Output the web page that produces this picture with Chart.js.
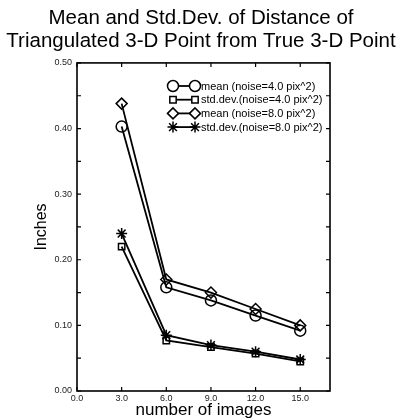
<!DOCTYPE html>
<html>
<head>
<meta charset="utf-8">
<script src="https://cdn.jsdelivr.net/npm/chart.js@4.4.1/dist/chart.umd.min.js"></script>
<style>
  html, body { margin: 0; padding: 0; background: #fff; }
  #wrap { width: 402px; height: 419px; }
</style>
</head>
<body>
<div id="wrap"><canvas id="chart" width="402" height="419"></canvas></div>
<script>
// data
const nImages = [3, 6, 9, 12, 15];
const mean4 = [0.403, 0.158, 0.138, 0.115, 0.092];
const std4 = [0.220, 0.077, 0.067, 0.057, 0.045];
const mean8 = [0.438, 0.170, 0.150, 0.125, 0.100];
const std8 = [0.240, 0.085, 0.070, 0.060, 0.048];

const labels = [
  'mean (noise=4.0 pix^2)',
  'std.dev.(noise=4.0 pix^2)',
  'mean (noise=8.0 pix^2)',
  'std.dev.(noise=8.0 pix^2)',
];
const styles = ['circle', 'rect', 'rectRot', 'star'];
const radii = [5.5, 4.5, 5.5, 5.5];

const FONT = "'Liberation Sans', Arial, sans-serif";

const mkSet = (vals, i) => ({
  label: labels[i],
  data: nImages.map((x, j) => ({ x, y: vals[j] })),
  borderColor: '#000',
  borderWidth: 1.8,
  pointStyle: styles[i],
  pointRadius: radii[i],
  pointBorderWidth: 1.5,
  pointBackgroundColor: 'rgba(255,255,255,0)',
  pointBorderColor: '#000',
  tension: 0,
});

// box frame, inward ticks and the line+marker legend
const framePlugin = {
  id: 'frame',
  afterDatasetsDraw(chart) {
    const { ctx, chartArea: a, scales } = chart;
    ctx.save();
    ctx.strokeStyle = '#000';
    ctx.lineWidth = 1.6;
    ctx.strokeRect(a.left, a.top, a.right - a.left, a.bottom - a.top);
    ctx.lineWidth = 1.2;
    ctx.beginPath();
    scales.x.ticks.forEach(t => {
      const px = scales.x.getPixelForValue(t.value);
      ctx.moveTo(px, a.bottom); ctx.lineTo(px, a.bottom - 4);
      ctx.moveTo(px, a.top); ctx.lineTo(px, a.top + 4);
    });
    for (let v = 0; v <= 0.5001; v += 0.05) {
      const py = scales.y.getPixelForValue(v);
      ctx.moveTo(a.left, py); ctx.lineTo(a.left + 4, py);
      ctx.moveTo(a.right, py); ctx.lineTo(a.right - 4, py);
    }
    ctx.stroke();

    // legend
    const x0 = 173, x1 = 195, y0 = 86, dy = 13.7;
    chart.data.datasets.forEach((ds, i) => {
      const y = y0 + i * dy;
      ctx.lineWidth = 1.8;
      ctx.beginPath();
      ctx.moveTo(x0, y); ctx.lineTo(x1, y);
      ctx.stroke();
      const opts = { pointStyle: ds.pointStyle, radius: ds.pointRadius, rotation: 0, borderWidth: 1.5 };
      ctx.fillStyle = '#fff';
      ctx.lineWidth = 1.5;
      Chart.helpers.drawPoint(ctx, opts, x0, y);
      Chart.helpers.drawPoint(ctx, opts, x1, y);
      ctx.fillStyle = '#000';
      ctx.font = '11px ' + FONT;
      ctx.textBaseline = 'middle';
      ctx.fillText(ds.label, x1 + 6, y + 0.5);
    });
    ctx.restore();
  },
};

new Chart(document.getElementById('chart'), {
  type: 'line',
  data: {
    datasets: [mkSet(mean4, 0), mkSet(std4, 1), mkSet(mean8, 2), mkSet(std8, 3)],
  },
  options: {
    responsive: false,
    animation: false,
    layout: { padding: 0 },
    plugins: {
      legend: { display: false },
      tooltip: { enabled: false },
      title: {
        display: true,
        text: ['Mean and Std.Dev. of Distance of', 'Triangulated 3-D Point from True 3-D Point'],
        color: '#000',
        font: { family: FONT, size: 20.5, weight: 'normal', lineHeight: 1.12 },
        padding: { top: 6.5, bottom: 10.5 },
      },
    },
    scales: {
      x: {
        type: 'linear',
        min: 0,
        max: 17,
        grid: { display: false, drawTicks: false },
        border: { display: false },
        ticks: {
          stepSize: 3,
          includeBounds: false,
          maxRotation: 0,
          padding: 2,
          color: '#222',
          font: { family: FONT, size: 9 },
          callback: v => v.toFixed(1),
        },
        title: {
          display: true,
          text: 'number of images',
          color: '#000',
          font: { family: FONT, size: 17 },
          padding: { top: 0, bottom: -2 },
        },
        afterFit(s) { s.height = 28; },
      },
      y: {
        min: 0,
        max: 0.5,
        grid: { display: false, drawTicks: false },
        border: { display: false },
        ticks: {
          stepSize: 0.1,
          padding: 5,
          color: '#222',
          font: { family: FONT, size: 9 },
          callback: v => v.toFixed(2),
        },
        title: {
          display: true,
          text: 'Inches',
          color: '#000',
          font: { family: FONT, size: 16 },
          padding: { top: 32, bottom: 0 },
        },
        afterFit(s) { s.width = 77; },
      },
      // empty right-hand axis that only reserves the white margin
      y2: {
        position: 'right',
        min: 0,
        max: 0.5,
        grid: { display: false, drawTicks: false },
        border: { display: false },
        ticks: { display: false },
        afterFit(s) { s.width = 72; },
      },
    },
  },
  plugins: [framePlugin],
});
</script>
</body>
</html>
